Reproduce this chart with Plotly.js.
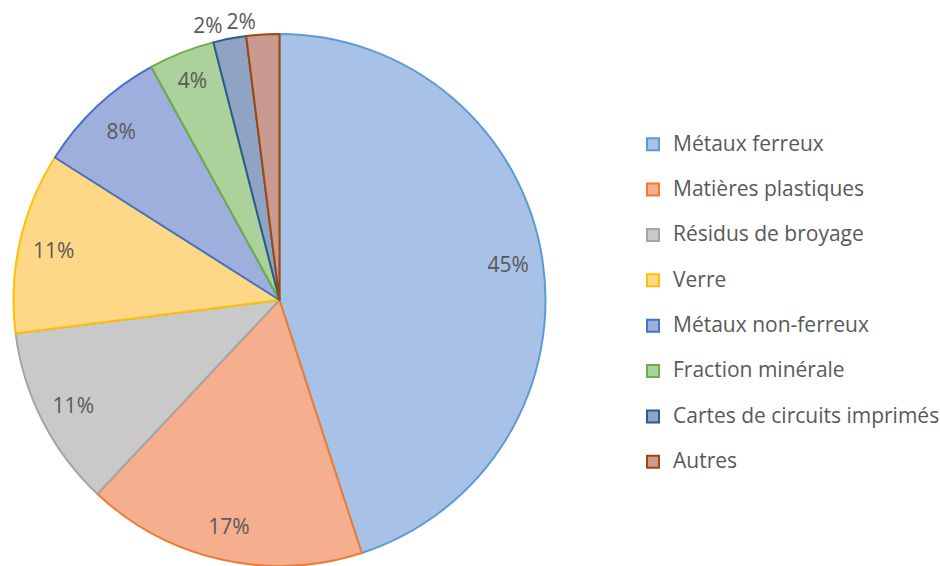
<!DOCTYPE html>
<html>
<head>
<meta charset="utf-8">
<script src="https://cdn.plot.ly/plotly-3.0.1.min.js"></script>
<style>html,body{margin:0;padding:0;background:#fff;}#chart{width:940px;height:566px;}</style>
</head>
<body>
<div id="chart"></div>
<script>
var categories = ["Métaux ferreux", "Matières plastiques", "Résidus de broyage", "Verre",
  "Métaux non-ferreux", "Fraction minérale", "Cartes de circuits imprimés", "Autres"];
var shares = [45, 17, 11, 11, 8, 4, 2, 2];
var fillColors = ["#a8c2e7", "#f5ae8e", "#c9c9c9", "#ffd887", "#9eafdd", "#acd19a", "#8fa3c2", "#c99b90"];
var lineColors = ["#5b9bd5", "#ed7d31", "#a5a5a5", "#ffc000", "#4472c4", "#70ad47", "#255e91", "#9e480e"];
// label placement per slice, split over two text-only rings so the two small
// outside labels are not pushed apart
var labelPosA = ["inside", "inside", "inside", "inside", "inside", "inside", "outside", "none"];
var labelPosB = ["none", "none", "none", "none", "none", "none", "none", "outside"];

var FONT = "Open Sans, sans-serif";
var TEXTCOL = "#595959";
var FS = 21;
var dom = {x: [13.5 / 940, 545.5 / 940], y: [0, 1]};

var legendLabels = categories.map(function (c) {
  return '<span style="font-size:' + FS + 'px">' + c + '</span><br> ';
});

var mainPie = {
  type: "pie",
  labels: legendLabels,
  values: shares,
  sort: false,
  direction: "clockwise",
  rotation: 0,
  domain: dom,
  textinfo: "none",
  hoverinfo: "none",
  marker: {colors: fillColors, line: {color: lineColors, width: 2}},
  showlegend: true
};

function ring(positions) {
  return {
    type: "pie",
    labels: categories,
    values: shares,
    sort: false,
    direction: "clockwise",
    rotation: 0,
    hole: 0.74,
    domain: dom,
    textinfo: "percent",
    textposition: positions,
    insidetextorientation: "horizontal",
    textfont: {family: FONT, size: FS, color: TEXTCOL},
    outsidetextfont: {family: FONT, size: FS, color: TEXTCOL},
    insidetextfont: {family: FONT, size: FS, color: TEXTCOL},
    hoverinfo: "skip",
    marker: {colors: categories.map(function () { return "rgba(0,0,0,0)"; }), line: {width: 0}},
    showlegend: false
  };
}

var layout = {
  width: 940, height: 566,
  margin: {l: 0, r: 0, t: 34, b: 0, autoexpand: false},
  paper_bgcolor: "#ffffff",
  plot_bgcolor: "#ffffff",
  showlegend: true,
  uniformtext: {minsize: FS, mode: "show"},
  legend: {
    x: 633 / 940, xanchor: "left",
    y: 0.825, yanchor: "top",
    valign: "top",
    font: {family: FONT, size: 16.3, color: TEXTCOL},
    bgcolor: "rgba(0,0,0,0)",
    borderwidth: 0,
    traceorder: "normal"
  }
};

Plotly.newPlot("chart", [mainPie, ring(labelPosA), ring(labelPosB)], layout, {displayModeBar: false, staticPlot: true});
</script>
</body>
</html>
